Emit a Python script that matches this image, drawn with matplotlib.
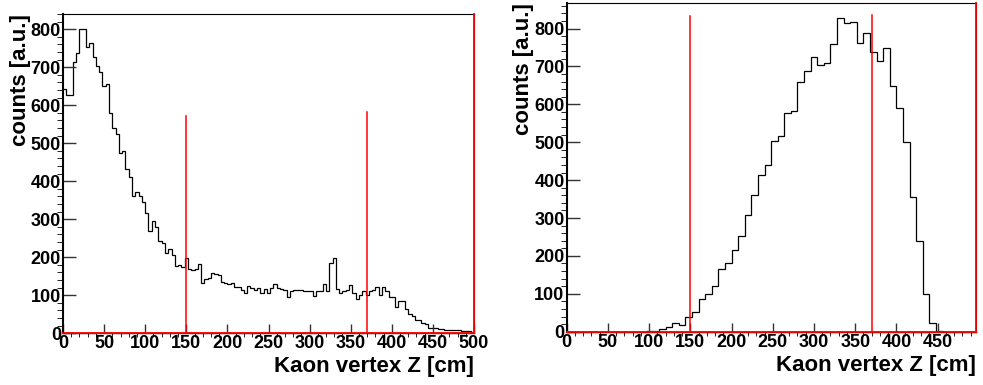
import numpy as np
import matplotlib
matplotlib.use("Agg")
import matplotlib.pyplot as plt
from matplotlib.ticker import MultipleLocator

plt.rcParams['font.family'] = ['Liberation Sans', 'DejaVu Sans']
plt.rcParams['font.weight'] = 'bold'

# ---- data ----
# left: 0-500 cm, 4 cm bins
left_width = 4
left_counts = [
    642, 627, 627, 713, 737, 801, 801, 754, 763, 726,
    703, 688, 651, 655, 580, 541, 524, 475, 480, 432,
    412, 362, 371, 362, 345, 316, 269, 296, 279, 244,
    237, 211, 221, 206, 177, 180, 174, 197, 168, 167,
    168, 182, 133, 142, 145, 158, 157, 153, 136, 132,
    129, 133, 123, 121, 114, 107, 124, 118, 114, 118,
    107, 116, 107, 118, 130, 118, 116, 114, 96, 110,
    114, 113, 114, 111, 110, 112, 98, 110, 110, 129,
    110, 184, 197, 116, 107, 112, 114, 127, 105, 89,
    101, 112, 101, 111, 114, 123, 101, 121, 110, 96,
    96, 70, 86, 86, 63, 51, 46, 35, 34, 26,
    25, 13, 15, 13, 11, 11, 9, 8, 9, 8,
    9, 5, 7, 5, 4,
]

# right: 0-496 cm, 8 cm bins
right_width = 8
right_counts = [
    0, 0, 0, 0, 0, 0, 0, 0, 0, 0,
    0, 0, 1, 3, 7, 13, 24, 19, 38, 51,
    85, 99, 120, 165, 182, 216, 252, 308, 360, 413,
    440, 504, 516, 578, 583, 660, 688, 726, 703, 708,
    758, 828, 814, 816, 761, 789, 737, 715, 748, 649,
    589, 501, 356, 240, 99, 22, 2, 0, 0, 0,
    0, 0,
]

# cut lines (x position, top of line)
left_cuts = [(150, 572), (370, 582)]
right_cuts = [(150, 833), (370, 836)]

x_title = "Kaon vertex Z [cm]"
y_title = "counts [a.u.]"

fig = plt.figure(figsize=(9.83, 3.85), dpi=100)
ax_l = fig.add_axes([0.0641, 0.1343, 0.4181, 0.8294])
ax_r = fig.add_axes([0.5765, 0.1384, 0.4159, 0.8545])


def draw(ax, counts, width, cuts, xmax, ymax, xlabels_upto, ylab_x):
    edges = np.arange(len(counts) + 1) * width
    ax.stairs(counts, edges, color='black', lw=0.9, baseline=None)
    ax.set_xlim(0, xmax)
    ax.set_ylim(0, ymax)

    # red cut lines
    for xc, top in cuts:
        ax.plot([xc, xc], [0, top], color='red', lw=1.1, zorder=4)
    ax.plot([0, xmax], [0, 0], color='red', lw=1.3, zorder=4, clip_on=False)
    ax.plot([xmax, xmax], [0, ymax], color='red', lw=1.3, zorder=4, clip_on=False)

    ax.xaxis.set_major_locator(MultipleLocator(50))
    ax.xaxis.set_minor_locator(MultipleLocator(10))
    ax.yaxis.set_major_locator(MultipleLocator(100))
    ax.yaxis.set_minor_locator(MultipleLocator(20))
    ticks = np.arange(0, xlabels_upto + 1, 50)
    ax.set_xticks(ticks)
    ax.set_xticklabels([str(t) for t in ticks])

    ax.tick_params(direction='in', top=False, right=False, labelsize=13,
                   color='#333333', width=1.0)
    ax.tick_params(axis='x', which='major', length=6.7, pad=1.5)
    ax.tick_params(axis='x', which='minor', length=3.1)
    ax.tick_params(axis='y', which='major', length=9.1, pad=1.5)
    ax.tick_params(axis='y', which='minor', length=4.1)
    for lab in ax.get_xticklabels() + ax.get_yticklabels():
        lab.set_fontweight('bold')

    for side in ['top', 'right']:
        ax.spines[side].set_linewidth(0.8)
    ax.spines['left'].set_linewidth(1.5)
    ax.spines['bottom'].set_linewidth(1.0)

    ax.set_xlabel(x_title, fontsize=16, fontweight='bold', loc='right')
    ax.xaxis.set_label_coords(1.0, -0.07)
    ax.set_ylabel(y_title, fontsize=16, fontweight='bold', loc='top')
    ax.yaxis.set_label_coords(ylab_x, 1.0)


draw(ax_l, left_counts, left_width, left_cuts, 500, 840, 500, -0.078)
draw(ax_r, right_counts, right_width, right_cuts, 496, 868, 450, -0.080)

fig.savefig("out.png", dpi=100)
